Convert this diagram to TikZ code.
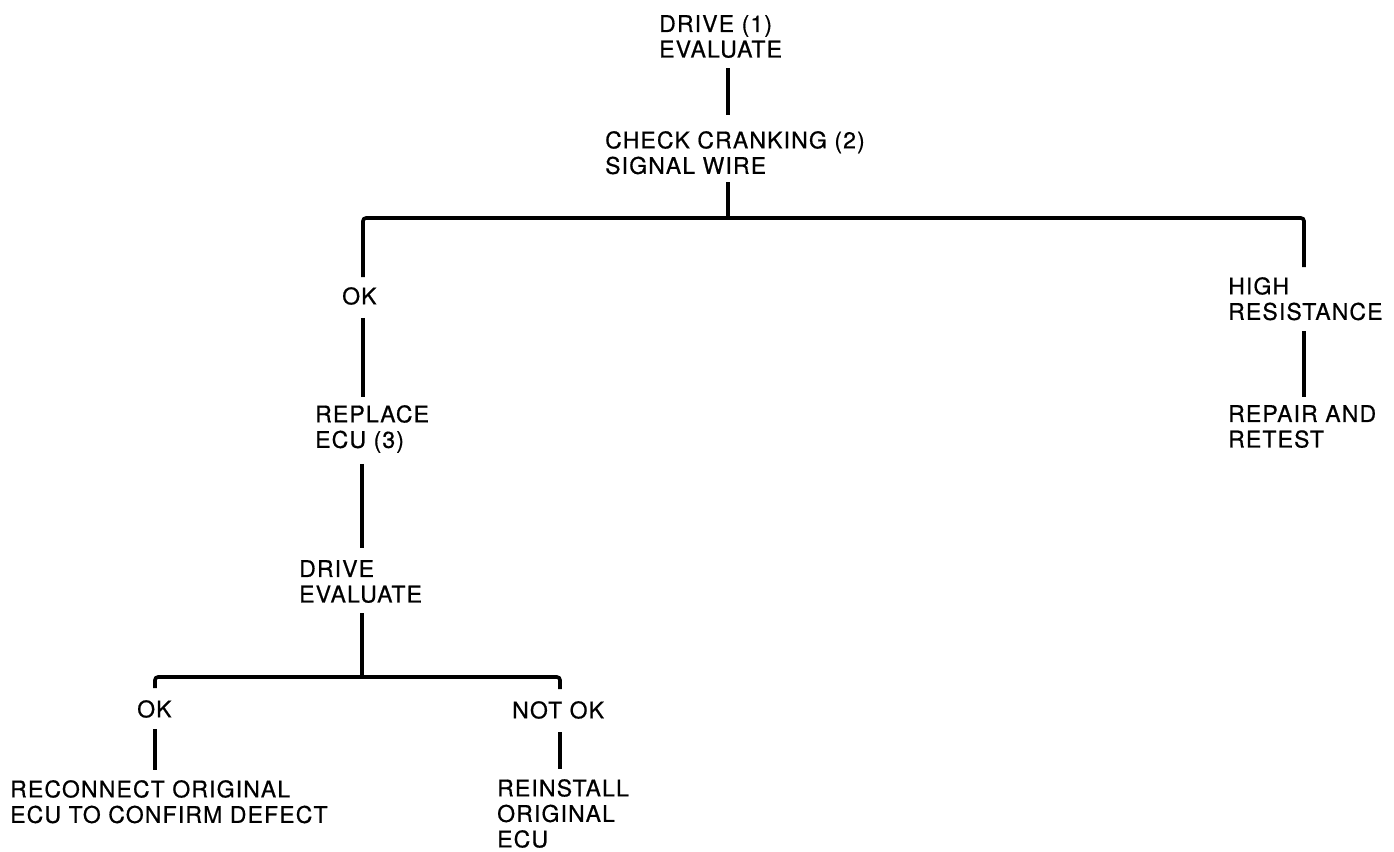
\documentclass[tikz,border=0pt]{standalone}
\usepackage{fontspec}
\setmainfont{TeX Gyre Heros}[LetterSpace=5,FakeBold=0.6]
\begin{document}
\begin{tikzpicture}[x=1pt,y=-1pt,
  lbl/.style={anchor=north west,inner sep=0pt,align=left,font=\fontsize{23}{25.5}\selectfont},
  ln/.style={line width=3.6pt,black}]
\useasboundingbox[fill=white] (0,0) rectangle (1394,851);
% texts
\node[lbl] (n1)  at (659,15)  {DRIVE (1)\\EVALUATE};
\node[lbl] (n2)  at (605,131) {CHECK CRANKING (2)\\SIGNAL WIRE};
\node[lbl] (ok1) at (342,287) {OK};
\node[lbl] (rep) at (315,405) {REPLACE\\ECU (3)};
\node[lbl] (de)  at (299,560) {DRIVE\\EVALUATE};
\node[lbl] (ok2) at (137,700) {OK};
\node[lbl] (rec) at (10,780)  {RECONNECT ORIGINAL\\ECU TO CONFIRM DEFECT};
\node[lbl] (nok) at (512,701) {NOT OK};
\node[lbl] (rei) at (497,779) {REINSTALL\\ORIGINAL\\ECU};
\node[lbl] (hr)  at (1228,277) {HIGH\\RESISTANCE};
\node[lbl] (ra)  at (1228,405) {REPAIR AND\\RETEST};
% junction coordinates
\coordinate (c1) at (728,218);
\coordinate (L)  at (363,218);
\coordinate (R)  at (1304,218);
\coordinate (c2) at (362,677);
\coordinate (L2) at (155,677);
\coordinate (R2) at (560,677);
% connectors
\draw[ln] ([yshift=-10pt]n1.south -| c1) -- ([yshift=16pt]n2.north -| c1);
\draw[ln] ([yshift=-8pt]n2.south -| c1) -- (c1);
\draw[ln,rounded corners=3pt] ([yshift=10pt]ok1.north -| L) -- (L) -- (R) -- ([yshift=10pt]hr.north -| R);
\draw[ln] ([yshift=-13pt]ok1.south -| L) -- ([yshift=8pt]rep.north -| L);
\draw[ln] ([yshift=-11pt]rep.south -| c2) -- ([yshift=12pt]de.north -| c2);
\draw[ln] ([yshift=-10pt]de.south -| c2) -- (c2);
\draw[ln,rounded corners=3pt] ([yshift=12pt]ok2.north -| L2) -- (L2) -- (R2) -- ([yshift=12pt]nok.north -| R2);
\draw[ln] ([yshift=-11pt]ok2.south -| L2) -- ([yshift=10pt]rec.north -| L2);
\draw[ln] ([yshift=-13pt]nok.south -| R2) -- ([yshift=10pt]rei.north -| R2);
\draw[ln] ([yshift=-11pt]hr.south -| R) -- ([yshift=8pt]ra.north -| R);
\end{tikzpicture}
\end{document}
